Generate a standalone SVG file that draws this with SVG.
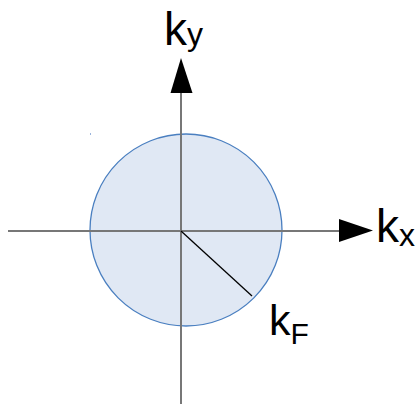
<svg xmlns="http://www.w3.org/2000/svg" width="420" height="404" viewBox="0 0 420 404">
<style>
.ax{stroke:#777;stroke-width:2;fill:none}
.lbl{font-family:"Liberation Sans",Arial,sans-serif;fill:#000}
</style>
<rect width="420" height="404" fill="#fff"/>
<g id="fermi-circle">
<circle cx="186" cy="230" r="96" fill="#e0e8f4" stroke="#4a7fc0" stroke-width="1.3"/>
<rect x="90" y="133" width="1" height="2" fill="#9ab4dc"/>
</g>
<g id="connectors">
<line class="ax" x1="8" y1="231" x2="340" y2="231"/>
<polygon points="339,219 373,230.5 339,242" fill="#000"/>
<line class="ax" x1="181" y1="404" x2="181" y2="92"/>
<polygon points="170.5,93 181,58 192.5,93" fill="#000"/>
<line x1="181" y1="231" x2="252" y2="296" stroke="#000" stroke-width="1.3"/>
</g>
<g id="label-ky"><text class="lbl" x="164" y="45"><tspan font-size="46">k</tspan><tspan font-size="32">y</tspan></text></g>
<g id="label-kx"><text class="lbl" x="376" y="242"><tspan font-size="46">k</tspan><tspan font-size="32" dy="4">x</tspan></text></g>
<g id="label-kf"><text class="lbl" x="269" y="335"><tspan font-size="43">k</tspan><tspan font-size="30" dy="9">F</tspan></text></g>
</svg>
